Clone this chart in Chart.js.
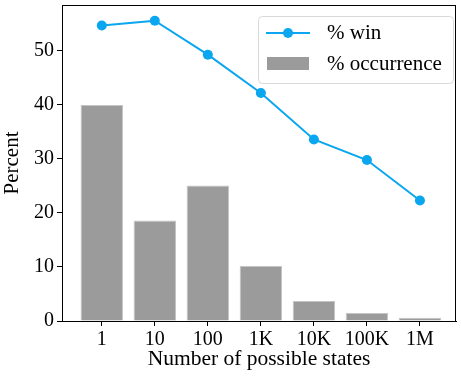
<!DOCTYPE html>
<html>
<head>
<meta charset="utf-8">
<script src="https://cdn.jsdelivr.net/npm/chart.js@4/dist/chart.umd.min.js"></script>
<style>
  html, body { margin: 0; padding: 0; background: #fff; }
  #wrap { width: 461px; height: 378px; position: relative; }
</style>
</head>
<body>
<div id="wrap"><canvas id="chart"></canvas></div>
<script>
// --- data ---
const stateLabels = ['1', '10', '100', '1K', '10K', '100K', '1M'];
const winPct = [54.7, 55.6, 49.3, 42.2, 33.6, 29.8, 22.3];
const occurrencePct = [40.0, 18.6, 25.1, 10.2, 3.7, 1.5, 0.6];
const yTicks = [0, 10, 20, 30, 40, 50];

const blue = '#0aa6ef';
const gray = '#9b9b9b';
const serif = '"Liberation Serif", "DejaVu Serif", serif';

// frame around the plot area + legend box inside it
const framePlugin = {
    id: 'frame',
    afterDraw(chart) {
        const { ctx, chartArea: a } = chart;
        ctx.save();
        ctx.strokeStyle = '#000';
        ctx.lineWidth = 1;
        ctx.strokeRect(a.left + 0.5, a.top + 0.5, a.right - a.left - 1, a.bottom - a.top);

        // legend
        const lx = 258, ly = 16, lw = 195, lh = 67;
        ctx.fillStyle = 'rgba(255,255,255,0.8)';
        ctx.strokeStyle = '#d8d8d8';
        ctx.beginPath();
        ctx.roundRect(lx + 0.5, ly + 0.5, lw, lh, 4);
        ctx.fill();
        ctx.stroke();

        ctx.strokeStyle = blue;
        ctx.lineWidth = 2;
        ctx.beginPath();
        ctx.moveTo(266, 33);
        ctx.lineTo(310, 33);
        ctx.stroke();
        ctx.fillStyle = blue;
        ctx.beginPath();
        ctx.arc(288, 33, 5, 0, Math.PI * 2);
        ctx.fill();

        ctx.fillStyle = gray;
        ctx.fillRect(267, 57, 42, 13);

        ctx.fillStyle = '#000';
        ctx.font = '21px ' + serif;
        ctx.textBaseline = 'middle';
        ctx.fillText(chart.data.datasets[0].label, 327, 33);
        ctx.fillText(chart.data.datasets[1].label, 327, 64);
        ctx.restore();
    }
};

const ctx = document.getElementById('chart');
new Chart(ctx, {
    data: {
        datasets: [
            {
                type: 'line',
                label: '% win',
                data: winPct.map((v, i) => ({ x: i, y: v })),
                borderColor: blue,
                backgroundColor: blue,
                borderWidth: 2,
                pointRadius: 5,
                pointBorderWidth: 0,
                pointBackgroundColor: blue,
                order: 0
            },
            {
                type: 'bar',
                label: '% occurrence',
                data: occurrencePct.map((v, i) => ({ x: i, y: v })),
                backgroundColor: gray,
                borderColor: '#c4c4c4',
                borderWidth: 1,
                barPercentage: 1,
                categoryPercentage: 0.8,
                order: 1
            }
        ]
    },
    options: {
        responsive: true,
        maintainAspectRatio: false,
        animation: false,
        layout: { padding: { top: 5, right: 0, left: 0, bottom: 0 } },
        plugins: {
            legend: { display: false },
            tooltip: { enabled: false }
        },
        scales: {
            x: {
                type: 'linear',
                min: -0.75,
                max: 6.68,
                offset: false,
                afterBuildTicks: axis => { axis.ticks = stateLabels.map((_, i) => ({ value: i })); },
                ticks: {
                    callback: v => stateLabels[v],
                    color: '#000',
                    font: { family: serif, size: 20 },
                    padding: 2,
                    maxRotation: 0,
                    autoSkip: false
                },
                grid: { display: true, offset: false, drawOnChartArea: false, color: '#000', tickLength: 5 },
                border: { display: true, color: '#000' },
                title: {
                    display: true,
                    text: 'Number of possible states',
                    color: '#000',
                    font: { family: serif, size: 21.5 },
                    padding: { top: 0, bottom: 6 }
                },
                afterFit: axis => { axis.height = 57; axis.paddingLeft = 0; axis.paddingRight = 0; }
            },
            y: {
                min: 0,
                max: 58.5,
                afterBuildTicks: axis => { axis.ticks = yTicks.map(v => ({ value: v })); },
                ticks: {
                    color: '#000',
                    font: { family: serif, size: 20 },
                    padding: 3
                },
                grid: { display: true, drawOnChartArea: false, color: '#000', tickLength: 5 },
                border: { display: true, color: '#000' },
                title: {
                    display: true,
                    text: 'Percent',
                    color: '#000',
                    font: { family: serif, size: 21 },
                    padding: { top: 0, bottom: 4 }
                },
                afterFit: axis => { axis.width = 62; axis.paddingTop = 0; axis.paddingBottom = 0; }
            }
        }
    },
    plugins: [framePlugin]
});
</script>
</body>
</html>
